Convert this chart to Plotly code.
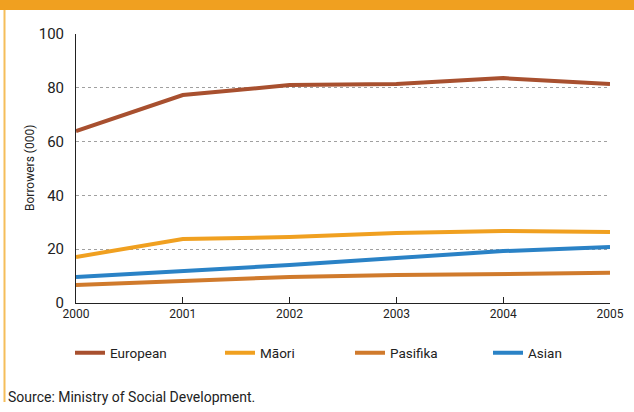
import plotly.graph_objects as go

years = [2000, 2001, 2002, 2003, 2004, 2005]
european = [63.9, 77.3, 81.0, 81.4, 83.6, 81.4]
maori = [17.1, 23.8, 24.5, 26.0, 26.8, 26.4]
pasifika = [6.7, 8.2, 9.7, 10.4, 10.8, 11.2]
asian = [9.7, 11.9, 14.1, 16.7, 19.3, 20.8]
series_names = ["European", "Māori", "Pasifika", "Asian"]
series_values = [european, maori, pasifika, asian]
colors = ["#A8502F", "#F0A020", "#D07A2C", "#2A82C6"]

W, H = 634, 412
L, R, T, B = 76, 24, 34, 109
pw, ph = W - L - R, H - T - B

def px(x):
    return (x - L) / pw

def py(y):
    return (H - B - y) / ph

font = "Roboto, Open Sans, sans-serif"
legend_x = [70, 220, 350, 488]

fig = go.Figure()
legend_keys = ["legend", "legend2", "legend3", "legend4"]
for name, vals, c, lk in zip(series_names, series_values, colors, legend_keys):
    fig.add_trace(go.Scatter(x=years, y=vals, mode="lines", name=name, legend=lk,
                             line=dict(color=c, width=4)))

layout_legends = {}
for lk, lx in zip(legend_keys, legend_x):
    layout_legends[lk] = dict(x=px(lx), xanchor="left", y=py(353), yanchor="middle",
                              font=dict(size=13.5, family=font, color="#222"),
                              itemwidth=30, bgcolor="rgba(0,0,0,0)")

fig.update_layout(
    width=W, height=H,
    margin=dict(l=L, r=R, t=T, b=B, autoexpand=False),
    paper_bgcolor="white", plot_bgcolor="white",
    font=dict(family=font, color="#222", size=12),
    showlegend=True,
    **layout_legends,
    xaxis=dict(range=[2000, 2005], tickvals=years, ticktext=[str(y) for y in years],
               showgrid=False, zeroline=False, showline=True, linecolor="#222", linewidth=1,
               ticks="inside", ticklen=6, tickcolor="#222", automargin=False,
               tickfont=dict(size=12, family=font)),
    yaxis=dict(range=[0, 100], tickvals=[0, 20, 40, 60, 80, 100],
               showgrid=True, gridcolor="#A0A0A0", griddash="dot", gridwidth=1,
               zeroline=False, showline=True, linecolor="#222", linewidth=1,
               ticks="", ticklabelstandoff=8, automargin=False,
               tickfont=dict(size=15, family=font)),
)

shapes = [
    dict(type="rect", xref="paper", yref="paper", x0=px(0), x1=px(W), y0=py(10), y1=py(0),
         fillcolor="#F0A020", line=dict(width=0), layer="above"),
    dict(type="line", xref="paper", yref="paper", x0=px(4.5), x1=px(4.5), y0=py(10), y1=py(402),
         line=dict(color="#F5BE5A", width=2)),
]
fig.update_layout(shapes=shapes)

fig.add_annotation(text="Borrowers (000)", xref="paper", yref="paper", x=px(30), y=py(168),
                   textangle=-90, showarrow=False, xanchor="center", yanchor="middle",
                   font=dict(size=12, family=font, color="#222"))
fig.add_annotation(text="Source: Ministry of Social Development.", xref="paper", yref="paper",
                   x=px(6), y=py(397), xanchor="left", yanchor="middle", showarrow=False,
                   font=dict(size=14, family=font, color="#222"))

fig.write_html("out.html", config={"displayModeBar": False},
               post_script="document.body.style.margin='0';document.body.style.overflow='hidden';")
